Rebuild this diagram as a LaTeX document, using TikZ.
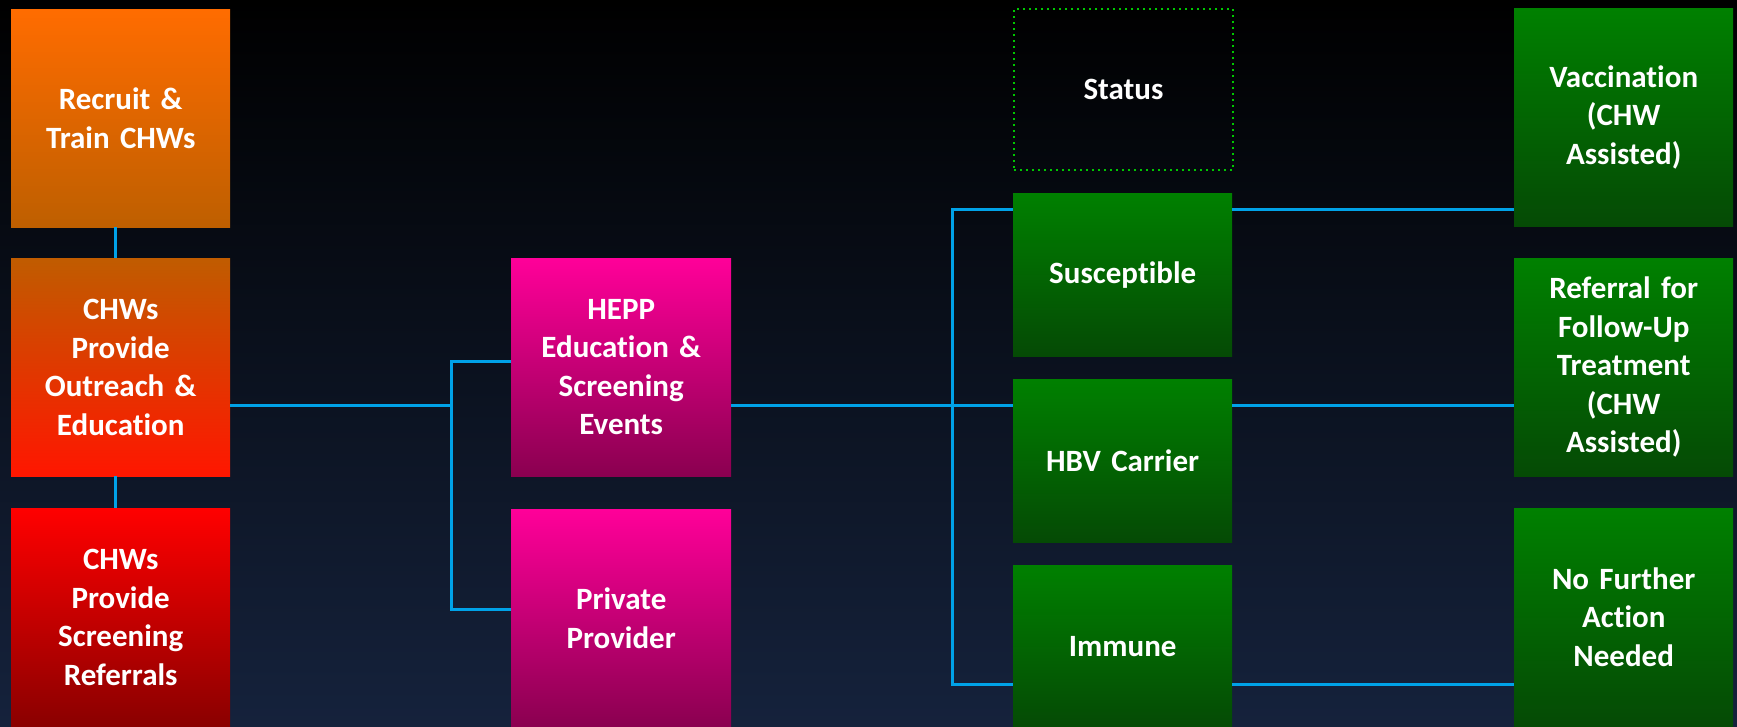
\documentclass[tikz,border=0pt]{standalone}
\usepackage{fontspec}
\setmainfont[Ligatures=NoCommon]{Carlito}
\usetikzlibrary{positioning}

\definecolor{bgtop}{RGB}{0,0,0}
\definecolor{bgbottom}{RGB}{21,34,60}
\definecolor{wireblue}{RGB}{0,162,232}
\definecolor{dotgreen}{RGB}{0,200,0}

\begin{document}
\begin{tikzpicture}[x=1pt,y=-1pt,
  box/.style={anchor=north west,minimum width=219pt,minimum height=218pt,
    inner sep=0pt,text width=205pt,align=center,text=white,
    font=\bfseries\fontsize{31}{38.5}\selectfont},
  recruitbox/.style={box,top color={rgb,255:red,255;green,108;blue,0},bottom color={rgb,255:red,190;green,95;blue,0}},
  outreachbox/.style={box,top color={rgb,255:red,192;green,92;blue,0},bottom color={rgb,255:red,255;green,22;blue,0}},
  redbox/.style={box,top color={rgb,255:red,255;green,0;blue,0},bottom color={rgb,255:red,138;green,0;blue,0}},
  pinkbox/.style={box,minimum width=220pt,top color={rgb,255:red,255;green,0;blue,153},bottom color={rgb,255:red,138;green,0;blue,80}},
  greenbox/.style={box,top color={rgb,255:red,0;green,128;blue,0},bottom color={rgb,255:red,5;green,74;blue,5}},
  statebox/.style={greenbox,minimum height=163pt},
  statusbox/.style={box,minimum height=161pt,draw=dotgreen,line width=2pt,dash pattern=on 2pt off 4pt},
  wire/.style={draw=wireblue,line width=3pt}]

% background
\fill[top color=bgtop,bottom color=bgbottom] (0,0) rectangle (1737,726);
\useasboundingbox (0,0) rectangle (1737,726);

% rows where the wires run
\coordinate (rowa) at (0,361);
\coordinate (rowb) at (0,609);
\coordinate (row1) at (0,209);
\coordinate (row3) at (0,684);
\coordinate (fork1) at (451,405);
\coordinate (fork2) at (952,405);

% CHW column
\node[recruitbox] (recruit) at (11,9) {Recruit \&\\Train CHWs};
\node[outreachbox] (outreach) at (11,258) {CHWs\\Provide\\Outreach \&\\Education};
\node[redbox] (referrals) at (11,508) {CHWs\\Provide\\Screening\\Referrals};

% screening
\node[pinkbox] (hepp) at (511,258) {HEPP\\Education \&\\Screening\\Events};
\node[pinkbox] (private) at (511,509) {Private\\Provider};

% status
\node[statusbox] (status) at (1013,8) {Status};
\node[statebox] (suscept) at (1013,193) {Susceptible};
\node[statebox] (hbv) at (1013,379) {HBV Carrier};
\node[statebox] (immune) at (1013,565) {Immune};

% follow-up
\node[greenbox] (vacc) at (1514,8) {Vaccination\\(CHW\\Assisted)};
\node[greenbox] (referral) at (1514,258) {Referral for\\Follow-Up\\Treatment\\(CHW\\Assisted)};
\node[greenbox] (nofurther) at (1514,508) {No Further\\Action\\Needed};

% wires
\draw[wire] ([xshift=-5pt]recruit.south) -- ([xshift=-5pt]outreach.north);
\draw[wire] ([xshift=-5pt]outreach.south) -- ([xshift=-5pt]referrals.north);
\draw[wire] (outreach.east |- fork1) -- (fork1);
\draw[wire] (hepp.west |- rowa) -| (fork1) |- (private.west |- rowb);
\draw[wire] (hepp.east |- fork2) -- (fork2);
\draw[wire] (suscept.west |- row1) -| (fork2) |- (immune.west |- row3);
\draw[wire] (fork2) -- (hbv.west |- fork2);
\draw[wire] (suscept.east |- row1) -- (vacc.west |- row1);
\draw[wire] (hbv.east |- fork2) -- (referral.west |- fork2);
\draw[wire] (immune.east |- row3) -- (nofurther.west |- row3);
\end{tikzpicture}
\end{document}
